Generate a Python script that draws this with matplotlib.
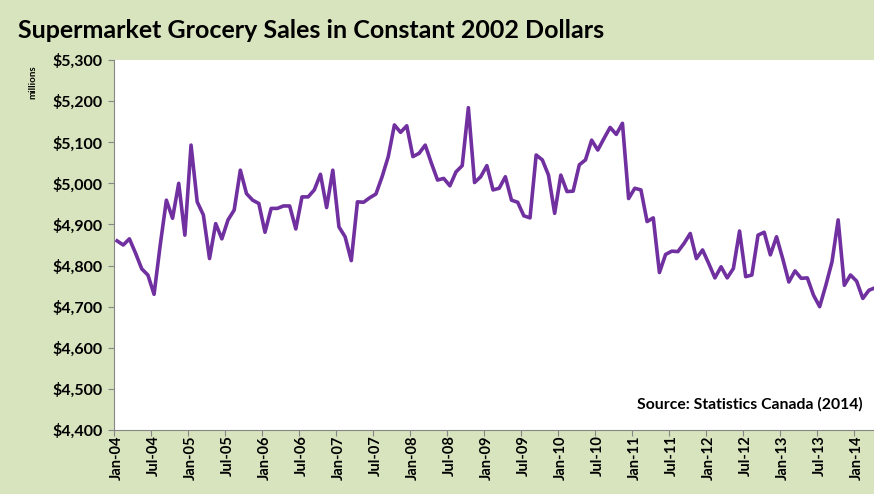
import matplotlib.pyplot as plt

plt.rcParams['font.family'] = ['Lato', 'DejaVu Sans']

# monthly sales, millions of constant 2002 dollars, Jan-04 .. Apr-14
sales = [4860, 4850, 4865, 4830, 4792, 4777, 4730, 4850, 4959, 4915,
         5000, 4874, 5093, 4955, 4923, 4817, 4902, 4865, 4911, 4935,
         5032, 4975, 4959, 4951, 4881, 4939, 4939, 4945, 4945, 4889,
         4967, 4967, 4984, 5022, 4941, 5032, 4894, 4870, 4812, 4955,
         4954, 4965, 4974, 5016, 5065, 5142, 5124, 5140, 5065, 5073,
         5093, 5049, 5008, 5012, 4994, 5028, 5043, 5184, 5002, 5016,
         5043, 4984, 4988, 5016, 4959, 4954, 4921, 4916, 5069, 5057,
         5020, 4927, 5020, 4980, 4981, 5045, 5057, 5105, 5081, 5109,
         5136, 5119, 5146, 4963, 4988, 4984, 4907, 4916, 4783, 4827,
         4835, 4834, 4854, 4878, 4817, 4838, 4805, 4770, 4797, 4770,
         4793, 4884, 4773, 4777, 4874, 4881, 4826, 4870, 4817, 4760,
         4787, 4769, 4770, 4728, 4700, 4752, 4809, 4911, 4752, 4777,
         4762, 4720, 4740, 4746]

tick_labels = ['Jan-04', 'Jul-04', 'Jan-05', 'Jul-05', 'Jan-06', 'Jul-06',
               'Jan-07', 'Jul-07', 'Jan-08', 'Jul-08', 'Jan-09', 'Jul-09',
               'Jan-10', 'Jul-10', 'Jan-11', 'Jul-11', 'Jan-12', 'Jul-12',
               'Jan-13', 'Jul-13', 'Jan-14']

yticks = [4400, 4500, 4600, 4700, 4800, 4900, 5000, 5100, 5200, 5300]

bg = '#d7e4bd'
fig = plt.figure(figsize=(8.74, 4.94), dpi=100, facecolor=bg)
ax = fig.add_axes([114/874, 1 - 430/494, 1 - 114/874 + 0.002, 370/494])
ax.set_facecolor('white')

x = list(range(len(sales)))
ax.plot(x, sales, color='#7030a0', lw=2.6, solid_joinstyle='round')

ax.set_ylim(4400, 5300)
ax.set_yticks(yticks)
ax.set_yticklabels(['$%s' % format(v, ',') for v in yticks],
                   fontsize=11.5, fontweight='bold')
ax.set_xlim(-0.5, 123.1)

# ticks sit between categories, labels in the middle of the category
ax.set_xticks([i * 6 - 0.5 for i in range(len(tick_labels))])
ax.set_xticklabels([])
ax.set_xticks([i * 6 for i in range(len(tick_labels))], minor=True)
ax.set_xticklabels(tick_labels, minor=True, rotation=90, fontsize=10.5,
                   fontweight='bold')
ax.tick_params(axis='x', which='minor', length=0, pad=4)
ax.tick_params(axis='x', which='major', length=4, color='#868686')
ax.tick_params(axis='y', length=4, color='#868686', pad=4)

for s in ['top', 'right']:
    ax.spines[s].set_visible(False)
for s in ['left', 'bottom']:
    ax.spines[s].set_color('#868686')

fig.text(18/874, 1 - 30/494, 'Supermarket Grocery Sales in Constant 2002 Dollars',
         fontsize=18, fontweight='bold', va='center', ha='left')
fig.text(33/874, 1 - 82/494, 'millions', fontsize=7, fontweight='bold',
         rotation=90, va='center', ha='center')
ax.text(0.983, 0.07, 'Source: Statistics Canada (2014)', transform=ax.transAxes,
        fontsize=11.3, fontweight='bold', ha='right', va='center')

fig.savefig('out.png', dpi=100, facecolor=bg)
